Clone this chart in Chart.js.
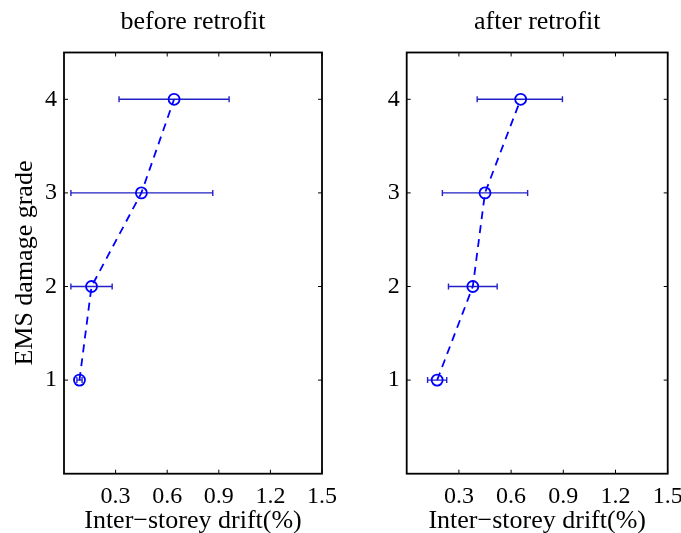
<!DOCTYPE html>
<html>
<head>
<meta charset="utf-8">
<script src="https://cdn.jsdelivr.net/npm/chart.js@4/dist/chart.umd.min.js"></script>
<style>
  html, body { margin: 0; padding: 0; background: #fff; }
  #wrap { position: relative; width: 681px; height: 533px; }
  canvas { position: absolute; top: 0; }
</style>
</head>
<body>
<div id="wrap">
  <canvas id="leftChart" width="340" height="533" style="left:0"></canvas>
  <canvas id="rightChart" width="341" height="533" style="left:340px"></canvas>
</div>
<script>
// EMS damage grade (y) vs drift (x)
const grades = [1, 2, 3, 4];
const beforeDrift = [0.09, 0.16, 0.45, 0.64];
const beforeLow = [0.075, 0.04, 0.04, 0.32];
const beforeHigh = [0.105, 0.28, 0.865, 0.96];
const afterDrift = [0.175, 0.38, 0.45, 0.655];
const afterLow = [0.12, 0.24, 0.205, 0.405];
const afterHigh = [0.23, 0.52, 0.695, 0.895];
const xTicks = [0.3, 0.6, 0.9, 1.2, 1.5];
const yTicks = [1, 2, 3, 4];

const FAMILY = '"Liberation Serif", "Times New Roman", serif';
const TICK_FONT = { family: FAMILY, size: 24, lineHeight: 1 };
const TITLE_FONT = { family: FAMILY, size: 26, lineHeight: 1 };
const BLUE = '#0000ff';

// error bars + box with inward ticks (matlab look)
const frame = {
  id: 'frame',
  beforeDatasetsDraw(chart, args, opts) {
    const { ctx, scales: { x, y } } = chart;
    ctx.save();
    ctx.strokeStyle = '#2222c8';
    ctx.lineWidth = 1.4;
    opts.low.forEach((lo, i) => {
      const py = y.getPixelForValue(grades[i]);
      const x0 = x.getPixelForValue(lo);
      const x1 = x.getPixelForValue(opts.high[i]);
      ctx.beginPath();
      ctx.moveTo(x0, py); ctx.lineTo(x1, py);
      ctx.moveTo(x0, py - 3); ctx.lineTo(x0, py + 3);
      ctx.moveTo(x1, py - 3); ctx.lineTo(x1, py + 3);
      ctx.stroke();
    });
    ctx.restore();
  },
  afterDraw(chart) {
    const { ctx, chartArea: a, scales: { x, y } } = chart;
    ctx.save();
    ctx.strokeStyle = '#000';
    ctx.lineWidth = 1.8;
    ctx.strokeRect(a.left, a.top, a.width, a.height);
    ctx.lineWidth = 1;
    ctx.beginPath();
    xTicks.forEach(v => {
      const px = x.getPixelForValue(v);
      ctx.moveTo(px, a.bottom); ctx.lineTo(px, a.bottom - 4);
      ctx.moveTo(px, a.top); ctx.lineTo(px, a.top + 4);
    });
    yTicks.forEach(v => {
      const py = y.getPixelForValue(v);
      ctx.moveTo(a.left, py); ctx.lineTo(a.left + 4, py);
      ctx.moveTo(a.right, py); ctx.lineTo(a.right - 4, py);
    });
    ctx.stroke();
    ctx.restore();
  }
};

function noPad(s) {
  s.paddingLeft = 0; s.paddingRight = 0; s.paddingTop = 0; s.paddingBottom = 0;
}

function makeChart(id, title, drift, low, high, yTitle, yWidth, padRight) {
  return new Chart(document.getElementById(id), {
    type: 'scatter',
    data: {
      datasets: [{
        data: grades.map((g, i) => ({ x: drift[i], y: g })),
        showLine: true,
        borderColor: BLUE,
        borderWidth: 1.8,
        borderDash: [8, 6],
        pointRadius: 5.5,
        pointBorderWidth: 1.8,
        pointBorderColor: BLUE,
        pointBackgroundColor: 'rgba(0,0,0,0)'
      }]
    },
    options: {
      responsive: false,
      animation: false,
      events: [],
      layout: { padding: { left: 0, right: padRight, top: 0, bottom: 0 } },
      plugins: {
        legend: { display: false },
        tooltip: { enabled: false },
        frame: { low: low, high: high }
      },
      scales: {
        x: {
          type: 'linear', position: 'bottom', min: 0, max: 1.5,
          afterBuildTicks: s => { s.ticks = xTicks.map(v => ({ value: v })); },
          afterFit: s => { s.height = 59.3; noPad(s); },
          ticks: { font: TICK_FONT, color: '#000', padding: 11, maxRotation: 0, autoSkip: false },
          grid: { display: false, drawTicks: false },
          border: { display: false },
          title: { display: true, text: 'Inter−storey drift(%)', font: TITLE_FONT, color: '#000', padding: { top: 0, bottom: -1 } }
        },
        x2: {
          type: 'linear', position: 'top', min: 0, max: 1.5,
          afterFit: s => { s.height = 52.5; noPad(s); },
          ticks: { display: false },
          grid: { display: false, drawTicks: false },
          border: { display: false },
          title: { display: true, text: title, font: TITLE_FONT, color: '#000', padding: { top: 9, bottom: 0 } }
        },
        y: {
          type: 'linear', position: 'left', min: 0, max: 4.5,
          afterBuildTicks: s => { s.ticks = yTicks.map(v => ({ value: v })); },
          afterFit: s => { s.width = yWidth; noPad(s); },
          ticks: { font: TICK_FONT, color: '#000', padding: 7 },
          grid: { display: false, drawTicks: false },
          border: { display: false },
          title: { display: yTitle, text: 'EMS damage grade', font: TITLE_FONT, color: '#000', padding: { top: 12, bottom: 0 } }
        }
      }
    },
    plugins: [frame]
  });
}

makeChart('leftChart', 'before retrofit', beforeDrift, beforeLow, beforeHigh, true, 64, 18);
makeChart('rightChart', 'after retrofit', afterDrift, afterLow, afterHigh, false, 66.7, 13.3);
</script>
</body>
</html>
